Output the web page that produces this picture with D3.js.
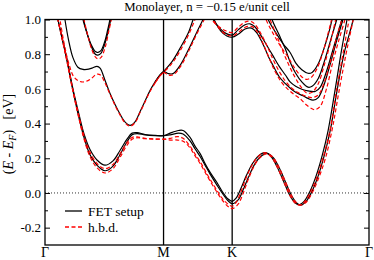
<!DOCTYPE html>
<html>
<head>
<meta charset="utf-8">
<script src="https://cdn.jsdelivr.net/npm/d3@7"></script>
<style>
  body { margin: 0; background: #fff; }
  svg { display: block; }
  svg text { font-family: "Liberation Serif", "Times New Roman", "DejaVu Serif", serif !important; fill: #000; }
</style>
</head>
<body>
<svg id="chart" width="374" height="260"></svg>
<script>
// k-path positions (units of 2pi/a) and labels
const kPoints = [0, 0.577, 0.911, 1.577];
const kLabels = ['Γ', 'M', 'K', 'Γ'];
const yTicks = [-0.2, 0, 0.2, 0.4, 0.6, 0.8, 1.0];
const yMinorTicks = [-0.1, 0.1, 0.3, 0.5, 0.7, 0.9];

// FET setup bands, [k, E - EF]
const fetBand1a = [[0.045,1.12],[0.063,1.0],[0.102,0.8],[0.136,0.6],[0.166,0.45],[0.190,0.34],[0.219,0.25],[0.253,0.19],[0.292,0.16],[0.331,0.185],[0.365,0.245],[0.399,0.31],[0.424,0.345],[0.448,0.348],[0.487,0.337],[0.536,0.332],[0.577,0.33],[0.609,0.345],[0.650,0.36],[0.672,0.36],[0.706,0.32],[0.730,0.27],[0.755,0.227],[0.779,0.17],[0.803,0.12],[0.837,0.06],[0.862,0.01],[0.891,-0.035],[0.911,-0.048],[0.93,-0.03],[0.955,0.03],[0.98,0.1],[1.01,0.17],[1.04,0.215],[1.071,0.232],[1.10,0.21],[1.13,0.15],[1.16,0.07],[1.19,-0.01],[1.215,-0.055],[1.237,-0.068],[1.26,-0.05],[1.29,0.01],[1.32,0.1],[1.35,0.22],[1.378,0.36],[1.41,0.58],[1.44,0.8],[1.47,1.0],[1.49,1.13]];
const fetBand1b = [[0.045,1.12],[0.063,1.0],[0.102,0.79],[0.136,0.59],[0.166,0.43],[0.190,0.32],[0.219,0.22],[0.253,0.16],[0.292,0.128],[0.331,0.155],[0.365,0.22],[0.399,0.295],[0.424,0.335],[0.448,0.342],[0.487,0.335],[0.536,0.331],[0.577,0.33],[0.609,0.335],[0.650,0.345],[0.672,0.34],[0.706,0.30],[0.730,0.255],[0.755,0.21],[0.779,0.16],[0.803,0.11],[0.837,0.045],[0.862,0.0],[0.891,-0.045],[0.911,-0.062],[0.94,-0.04],[0.965,0.02],[0.99,0.09],[1.02,0.165],[1.05,0.21],[1.081,0.228],[1.11,0.205],[1.14,0.145],[1.17,0.065],[1.20,-0.015],[1.225,-0.058],[1.245,-0.07],[1.27,-0.05],[1.30,0.01],[1.33,0.1],[1.36,0.22],[1.39,0.37],[1.42,0.58],[1.455,0.8],[1.50,1.0],[1.515,1.1]];
const fetBand2a = [[0.085,1.1],[0.097,1.0],[0.115,0.88],[0.136,0.78],[0.160,0.725],[0.185,0.712],[0.204,0.712],[0.229,0.72],[0.253,0.73],[0.268,0.72],[0.292,0.65],[0.316,0.575],[0.341,0.51],[0.365,0.455],[0.389,0.41],[0.414,0.39],[0.438,0.41],[0.463,0.47],[0.487,0.53],[0.511,0.59],[0.536,0.64],[0.560,0.68],[0.577,0.70],[0.62,0.76],[0.66,0.84],[0.70,0.93],[0.721,1.0],[0.74,1.06]];
const fetBand2b = [[0.536,0.64],[0.560,0.68],[0.577,0.70],[0.60,0.688],[0.623,0.688],[0.66,0.74],[0.70,0.83],[0.74,0.93],[0.769,1.0],[0.79,1.06]];
const fetBand3a = [[0.175,1.08],[0.185,1.0],[0.205,0.92],[0.225,0.855],[0.245,0.815],[0.258,0.81],[0.272,0.82],[0.29,0.87],[0.305,0.94],[0.316,1.0],[0.325,1.06]];
const fetBand3b = [[0.178,1.08],[0.188,1.0],[0.207,0.91],[0.227,0.84],[0.245,0.80],[0.258,0.795],[0.272,0.805],[0.29,0.855],[0.307,0.93],[0.32,1.0],[0.33,1.06]];
const fetBand4a = [[0.80,1.06],[0.818,1.0],[0.85,0.95],[0.88,0.92],[0.911,0.91],[0.94,0.94],[0.974,0.97],[0.998,0.975],[1.02,0.96],[1.05,0.91],[1.08,0.85],[1.11,0.79],[1.14,0.73],[1.17,0.68],[1.193,0.64],[1.22,0.615],[1.25,0.598],[1.28,0.588],[1.315,0.585],[1.34,0.61],[1.37,0.70],[1.40,0.82],[1.43,0.94],[1.445,1.0],[1.46,1.07]];
const fetBand4b = [[0.805,1.06],[0.823,1.0],[0.855,0.935],[0.885,0.905],[0.911,0.898],[0.94,0.915],[0.974,0.945],[1.005,0.95],[1.03,0.925],[1.06,0.86],[1.09,0.78],[1.11,0.735],[1.14,0.67],[1.17,0.63],[1.193,0.605],[1.22,0.58],[1.256,0.56],[1.28,0.545],[1.305,0.535],[1.33,0.55],[1.36,0.63],[1.39,0.75],[1.42,0.88],[1.45,1.0],[1.465,1.07]];
const fetBand5a = [[1.07,1.06],[1.086,1.0],[1.12,0.93],[1.159,0.86],[1.193,0.81],[1.22,0.75],[1.25,0.71],[1.28,0.69],[1.30,0.695],[1.33,0.745],[1.36,0.84],[1.385,0.94],[1.397,1.0],[1.41,1.07]];
const fetBand5b = [[1.09,1.07],[1.105,1.0],[1.14,0.91],[1.17,0.83],[1.193,0.755],[1.22,0.69],[1.25,0.64],[1.28,0.61],[1.30,0.615],[1.33,0.66],[1.36,0.76],[1.39,0.88],[1.42,1.0],[1.435,1.07]];

// h.b.d. bands
const hbdBand1a = [[0.045,1.12],[0.063,1.0],[0.102,0.795],[0.136,0.595],[0.166,0.44],[0.190,0.33],[0.219,0.235],[0.253,0.17],[0.292,0.14],[0.331,0.165],[0.365,0.225],[0.399,0.29],[0.424,0.32],[0.448,0.323],[0.487,0.315],[0.536,0.311],[0.577,0.31],[0.609,0.315],[0.645,0.325],[0.672,0.315],[0.706,0.27],[0.730,0.225],[0.755,0.18],[0.779,0.13],[0.803,0.08],[0.837,0.015],[0.862,-0.03],[0.891,-0.065],[0.911,-0.077],[0.93,-0.055],[0.955,0.01],[0.98,0.09],[1.01,0.165],[1.04,0.213],[1.071,0.233],[1.10,0.21],[1.13,0.15],[1.16,0.07],[1.19,-0.01],[1.215,-0.055],[1.237,-0.07],[1.26,-0.055],[1.29,0.0],[1.32,0.08],[1.35,0.19],[1.385,0.35],[1.42,0.6],[1.45,0.8],[1.48,1.0],[1.50,1.13]];
const hbdBand1b = [[0.045,1.12],[0.063,1.0],[0.102,0.785],[0.136,0.585],[0.166,0.425],[0.190,0.31],[0.219,0.21],[0.253,0.145],[0.292,0.115],[0.331,0.14],[0.365,0.205],[0.399,0.275],[0.424,0.31],[0.448,0.318],[0.487,0.313],[0.536,0.31],[0.577,0.31],[0.609,0.305],[0.645,0.305],[0.672,0.298],[0.706,0.26],[0.730,0.215],[0.755,0.17],[0.779,0.12],[0.803,0.07],[0.837,0.005],[0.862,-0.04],[0.891,-0.078],[0.911,-0.09],[0.94,-0.065],[0.965,0.0],[0.99,0.08],[1.02,0.16],[1.05,0.207],[1.081,0.227],[1.11,0.205],[1.14,0.145],[1.17,0.065],[1.20,-0.015],[1.225,-0.058],[1.245,-0.07],[1.27,-0.055],[1.30,0.0],[1.33,0.08],[1.365,0.2],[1.40,0.38],[1.43,0.58],[1.465,0.8],[1.50,1.0],[1.515,1.1]];
const hbdBand2a = [[0.063,1.1],[0.073,1.0],[0.095,0.85],[0.115,0.75],[0.140,0.67],[0.165,0.645],[0.19,0.64],[0.22,0.655],[0.253,0.685],[0.27,0.68],[0.29,0.64],[0.316,0.57],[0.341,0.505],[0.365,0.45],[0.389,0.405],[0.414,0.385],[0.438,0.405],[0.463,0.465],[0.487,0.525],[0.511,0.585],[0.536,0.635],[0.560,0.675],[0.577,0.695],[0.62,0.75],[0.66,0.825],[0.70,0.915],[0.73,1.0],[0.75,1.06]];
const hbdBand2b = [[0.536,0.635],[0.560,0.675],[0.577,0.695],[0.60,0.68],[0.625,0.682],[0.66,0.73],[0.70,0.82],[0.74,0.92],[0.775,1.0],[0.80,1.07]];
const hbdBand3 = [[0.18,1.08],[0.19,1.0],[0.21,0.9],[0.23,0.82],[0.248,0.78],[0.26,0.772],[0.275,0.785],[0.293,0.84],[0.31,0.93],[0.323,1.0],[0.333,1.06]];
const hbdBand4a = [[0.795,1.06],[0.812,1.0],[0.845,0.96],[0.88,0.935],[0.911,0.925],[0.94,0.955],[0.974,0.985],[0.998,0.99],[1.02,0.975],[1.05,0.92],[1.08,0.85],[1.11,0.77],[1.14,0.70],[1.17,0.645],[1.20,0.605],[1.23,0.58],[1.265,0.56],[1.30,0.55],[1.33,0.565],[1.36,0.64],[1.39,0.76],[1.42,0.9],[1.445,1.0],[1.46,1.07]];
const hbdBand4b = [[0.80,1.06],[0.818,1.0],[0.85,0.945],[0.88,0.915],[0.911,0.905],[0.94,0.925],[0.974,0.955],[1.005,0.96],[1.03,0.935],[1.06,0.865],[1.09,0.78],[1.12,0.70],[1.15,0.64],[1.18,0.6],[1.21,0.57],[1.24,0.545],[1.27,0.51],[1.30,0.485],[1.315,0.48],[1.34,0.50],[1.37,0.6],[1.40,0.75],[1.43,0.88],[1.46,1.0],[1.475,1.07]];
const hbdBand5a = [[1.06,1.07],[1.076,1.0],[1.11,0.92],[1.15,0.84],[1.185,0.78],[1.215,0.72],[1.245,0.675],[1.271,0.655],[1.295,0.665],[1.325,0.72],[1.355,0.82],[1.38,0.93],[1.395,1.0],[1.41,1.07]];
const hbdBand5b = [[1.08,1.07],[1.096,1.0],[1.13,0.9],[1.16,0.81],[1.19,0.73],[1.22,0.66],[1.25,0.605],[1.276,0.575],[1.30,0.58],[1.33,0.63],[1.36,0.74],[1.39,0.87],[1.415,1.0],[1.43,1.07]];

const fetBands = [fetBand1a, fetBand1b, fetBand2a, fetBand2b, fetBand3a, fetBand3b, fetBand4a, fetBand4b, fetBand5a, fetBand5b];
const hbdBands = [hbdBand1a, hbdBand1b, hbdBand2a, hbdBand2b, hbdBand3, hbdBand4a, hbdBand4b, hbdBand5a, hbdBand5b];

const serif = '"Liberation Serif", "Times New Roman", "DejaVu Serif", serif';
const margin = { top: 19.5, right: 5, bottom: 15, left: 45 };
const svg = d3.select('#chart');
const width = +svg.attr('width');
const height = +svg.attr('height');
const innerW = width - margin.left - margin.right;
const innerH = height - margin.top - margin.bottom;

const x = d3.scaleLinear().domain([kPoints[0], kPoints[kPoints.length - 1]]).range([margin.left, margin.left + innerW]);
const y = d3.scaleLinear().domain([-0.3, 1.0]).range([margin.top + innerH, margin.top]);

const fmt = d => d3.format('.1f')(d).replace('\u2212', '-');

svg.append('defs').append('clipPath').attr('id', 'plot-clip')
    .append('rect')
    .attr('x', margin.left).attr('y', margin.top)
    .attr('width', innerW).attr('height', innerH);

// zero line
svg.append('line')
    .attr('x1', x.range()[0]).attr('x2', x.range()[1])
    .attr('y1', y(0)).attr('y2', y(0))
    .style('stroke', '#333')
    .style('stroke-width', 1)
    .style('stroke-dasharray', '1,2');

// high-symmetry verticals
svg.append('g')
    .selectAll('line')
    .data(kPoints.slice(1, -1))
    .enter()
    .append('line')
    .attr('x1', d => x(d)).attr('x2', d => x(d))
    .attr('y1', margin.top).attr('y2', margin.top + innerH)
    .style('stroke', '#000')
    .style('stroke-width', 1.3);

const line = d3.line()
    .x(d => x(d[0]))
    .y(d => y(d[1]))
    .curve(d3.curveCatmullRom.alpha(0.5));

const bands = svg.append('g').attr('clip-path', 'url(#plot-clip)');

bands.append('g')
    .selectAll('path')
    .data(fetBands)
    .enter()
    .append('path')
    .attr('d', line)
    .style('fill', 'none')
    .style('stroke', '#000')
    .style('stroke-width', 1.2);

bands.append('g')
    .selectAll('path')
    .data(hbdBands)
    .enter()
    .append('path')
    .attr('d', line)
    .style('fill', 'none')
    .style('stroke', '#ff0000')
    .style('stroke-width', 1.2)
    .style('stroke-dasharray', '4,2.5');

// axes
const leftAxis = svg.append('g')
    .attr('transform', `translate(${margin.left},0)`)
    .call(d3.axisLeft(y).tickValues(yTicks).tickSize(-5).tickPadding(4).tickFormat(fmt));
leftAxis.call(g => g.select('.domain').remove());
leftAxis.attr('font-family', serif).attr('font-size', 13);
leftAxis.selectAll('.tick line').style('stroke-width', 1);

svg.append('g')
    .attr('transform', `translate(${margin.left},0)`)
    .call(d3.axisLeft(y).tickValues(yMinorTicks).tickSize(-3).tickFormat(''))
    .call(g => g.select('.domain').remove());

svg.append('g')
    .attr('transform', `translate(${margin.left + innerW},0)`)
    .call(d3.axisRight(y).tickValues(yTicks).tickSize(-5).tickFormat(''))
    .call(g => g.select('.domain').remove());

svg.append('g')
    .attr('transform', `translate(${margin.left + innerW},0)`)
    .call(d3.axisRight(y).tickValues(yMinorTicks).tickSize(-3).tickFormat(''))
    .call(g => g.select('.domain').remove());

svg.append('rect')
    .attr('x', margin.left).attr('y', margin.top)
    .attr('width', innerW).attr('height', innerH)
    .style('fill', 'none')
    .style('stroke', '#000')
    .style('stroke-width', 1.3);

// k-point labels
svg.append('g')
    .selectAll('text')
    .data(kPoints)
    .enter()
    .append('text')
    .attr('x', d => x(d))
    .attr('y', 257)
    .attr('text-anchor', 'middle')
    .attr('font-family', serif)
    .attr('font-size', 14)
    .text((d, i) => kLabels[i]);

// title
svg.append('text')
    .attr('x', 207)
    .attr('y', 11)
    .attr('text-anchor', 'middle')
    .attr('font-family', serif)
    .attr('font-size', 12.8)
    .text('Monolayer, n = \u22120.15 e/unit cell');

// y label
const ylab = svg.append('text')
    .attr('transform', 'translate(13,134) rotate(-90)')
    .attr('text-anchor', 'middle')
    .attr('font-family', serif)
    .attr('font-size', 14);
ylab.append('tspan').text('(');
ylab.append('tspan').attr('font-style', 'italic').text('E');
ylab.append('tspan').text('\u00a0-\u00a0');
ylab.append('tspan').attr('font-style', 'italic').text('E');
ylab.append('tspan').attr('font-style', 'italic').attr('font-size', 10).attr('dy', 3).text('F');
ylab.append('tspan').attr('dy', -3).text(')\u00a0\u00a0\u00a0[eV]');

// legend
const legendItems = [
    { label: 'FET setup', color: '#000', dash: null },
    { label: 'h.b.d.', color: '#ff0000', dash: '4,2.5' },
];
const legend = svg.append('g')
    .selectAll('g')
    .data(legendItems)
    .enter()
    .append('g')
    .attr('transform', (d, i) => `translate(65,${211 + i * 16})`);
legend.append('line')
    .attr('x1', 0).attr('x2', 17)
    .style('stroke', d => d.color)
    .style('stroke-width', 1.3)
    .style('stroke-dasharray', d => d.dash);
legend.append('text')
    .attr('x', 23)
    .attr('y', 4.5)
    .attr('font-family', serif)
    .attr('font-size', 13.5)
    .text(d => d.label);
</script>
</body>
</html>
